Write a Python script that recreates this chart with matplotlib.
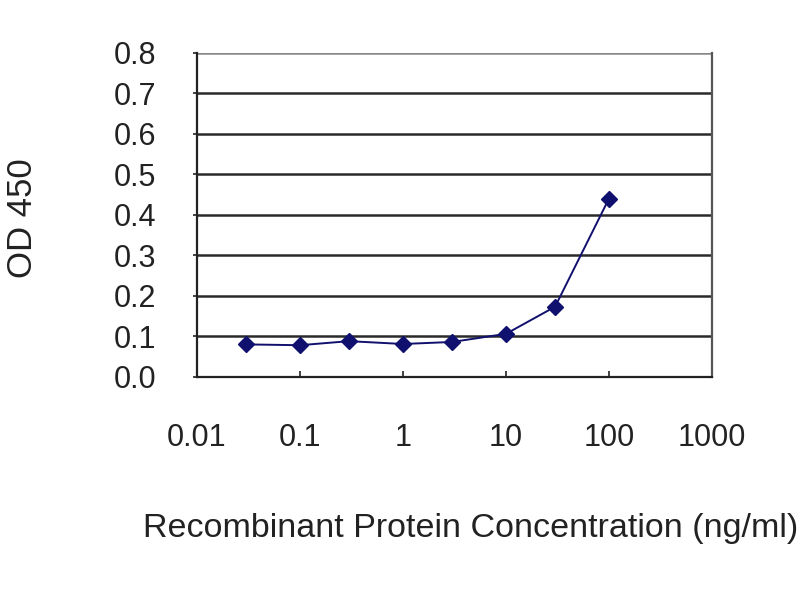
import numpy as np
import matplotlib
matplotlib.use("Agg")
import matplotlib.pyplot as plt

plt.rcParams['font.family'] = ['Liberation Sans', 'DejaVu Sans']

# concentrations (ng/ml) and OD 450 readings
konc = [0.03, 0.1, 0.3, 1, 3, 10, 30, 100]
od = [0.080, 0.078, 0.088, 0.081, 0.086, 0.106, 0.173, 0.440]
x_ticks = [0.01, 0.1, 1, 10, 100, 1000]
x_labels = ['0.01', '0.1', '1', '10', '100', '1000']
y_ticks = [0.0, 0.1, 0.2, 0.3, 0.4, 0.5, 0.6, 0.7, 0.8]

boja = '#10106e'

fig = plt.figure(figsize=(8, 6), dpi=100)
ax = fig.add_axes([0.246, 0.372, 0.644, 0.540])

for y in y_ticks[1:-1]:
    ax.axhline(y, color='#2a2a2a', lw=1.8, zorder=1)
ax.axhline(y_ticks[-1], color='#888888', lw=1.8, zorder=1)

ax.plot(konc, od, color=boja, lw=1.4, marker='D', markersize=8,
        markerfacecolor=boja, markeredgecolor=boja, zorder=3)

ax.set_xscale('log')
ax.set_xlim(0.01, 1000)
ax.set_ylim(0, 0.8)
ax.set_xticks(x_ticks)
ax.set_xticklabels(x_labels)
ax.minorticks_off()
ax.set_yticks(y_ticks)
ax.set_yticklabels(['%.1f' % v for v in y_ticks])

ax.tick_params(axis='x', direction='in', length=4, width=1.2, pad=33,
               labelsize=22, colors='#222222')
ax.tick_params(axis='y', direction='out', length=3, width=1.2, pad=26,
               labelsize=22, colors='#222222')

ax.spines['top'].set_visible(False)
ax.spines['left'].set_color('#222222')
ax.spines['bottom'].set_color('#222222')
ax.spines['right'].set_color('#555555')
for s in ['left', 'bottom', 'right']:
    ax.spines[s].set_linewidth(1.6)

fig.text(0.028, 0.637, 'OD 450', rotation=90, ha='center', va='center',
         fontsize=25, color='#222222')
fig.text(0.179, 0.12, 'Recombinant Protein Concentration (ng/ml)',
         ha='left', va='center', fontsize=24.5, color='#222222')

fig.savefig('out.png', dpi=100)
